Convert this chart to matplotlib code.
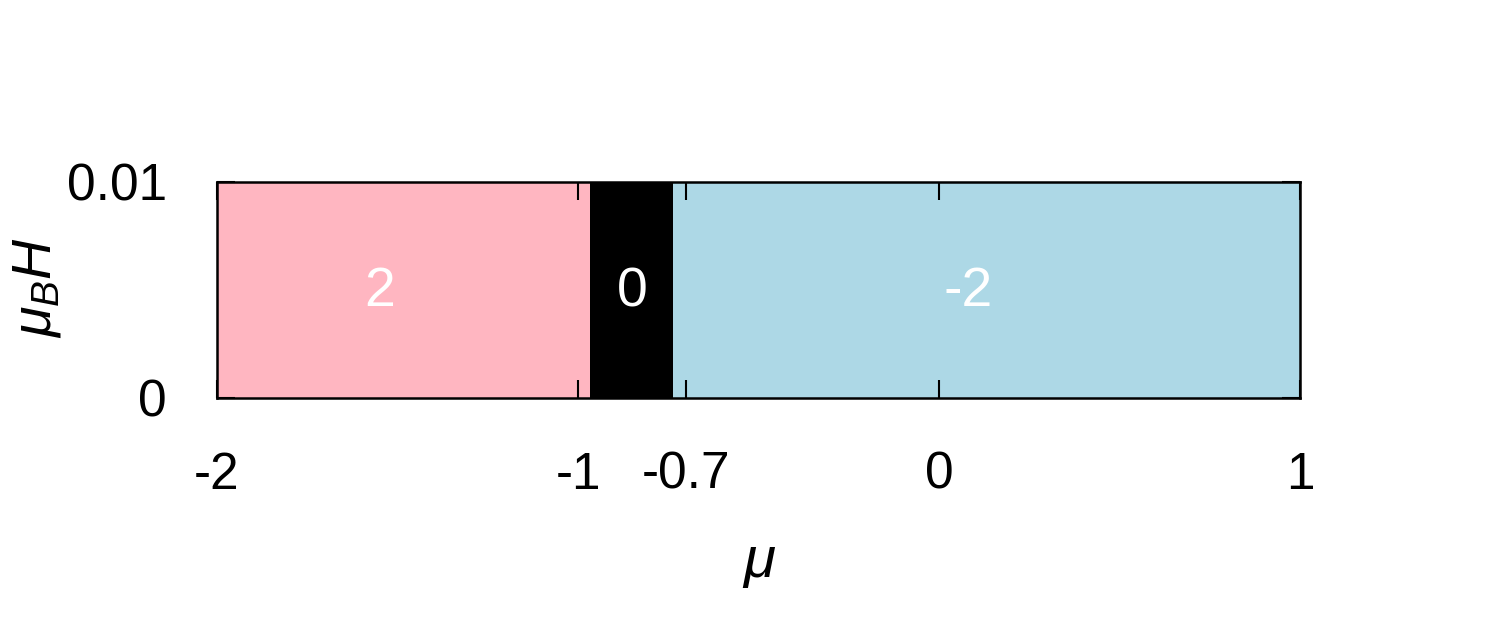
import matplotlib
matplotlib.use("Agg")
import matplotlib.pyplot as plt

plt.rcParams['font.family'] = ['Liberation Sans', 'DejaVu Sans']
plt.rcParams['mathtext.fontset'] = 'custom'
plt.rcParams['mathtext.rm'] = 'Liberation Sans'
plt.rcParams['mathtext.it'] = 'Liberation Sans:italic'

# phase regions along mu (chemical potential)
region_start = [-2.0, -0.967, -0.737]
region_end = [-0.967, -0.737, 1.0]
region_colors = ['#FFB6C1', '#000000', '#ADD8E6']
region_labels = ['2', '0', '-2']
label_x = [-1.55, -0.85, 0.08]
label_y = 0.0049

x_ticks = [-2, -1, -0.7, 0, 1]
x_ticklabels = ['-2', '-1', '-0.7', '0', '1']
y_ticks = [0, 0.01]
y_ticklabels = ['0', '0.01']

fig = plt.figure(figsize=(15, 6.33), dpi=100)
ax = fig.add_axes([0.1447, 0.3713, 0.722, 0.3412])

for x0, x1, c in zip(region_start, region_end, region_colors):
    ax.axvspan(x0, x1, color=c, lw=0, zorder=0)

for lx, lab in zip(label_x, region_labels):
    ax.text(lx, label_y, lab, color='white', fontsize=40, ha='center', va='center')

ax.set_xlim(-2, 1)
ax.set_ylim(0, 0.01)
ax.set_xticks(x_ticks)
ax.set_xticklabels(x_ticklabels)
ax.set_yticks(y_ticks)
ax.set_yticklabels(y_ticklabels)

ax.tick_params(axis='both', direction='in', length=13, width=1.5, labelsize=37,
               top=True, right=True, zorder=5)
ax.tick_params(axis='x', pad=38)
ax.tick_params(axis='y', pad=36)
for s in ax.spines.values():
    s.set_linewidth(1.8)
    s.set_zorder(6)

ax.set_xlabel(r'$\mu$', fontsize=42)
ax.xaxis.set_label_coords(0.501, -0.64)
fig.text(37 / 1500, 1 - 287 / 633, r'$\mu_B H$', fontsize=40, rotation=90,
         ha='center', va='center')

fig.savefig('out.png', dpi=100)
